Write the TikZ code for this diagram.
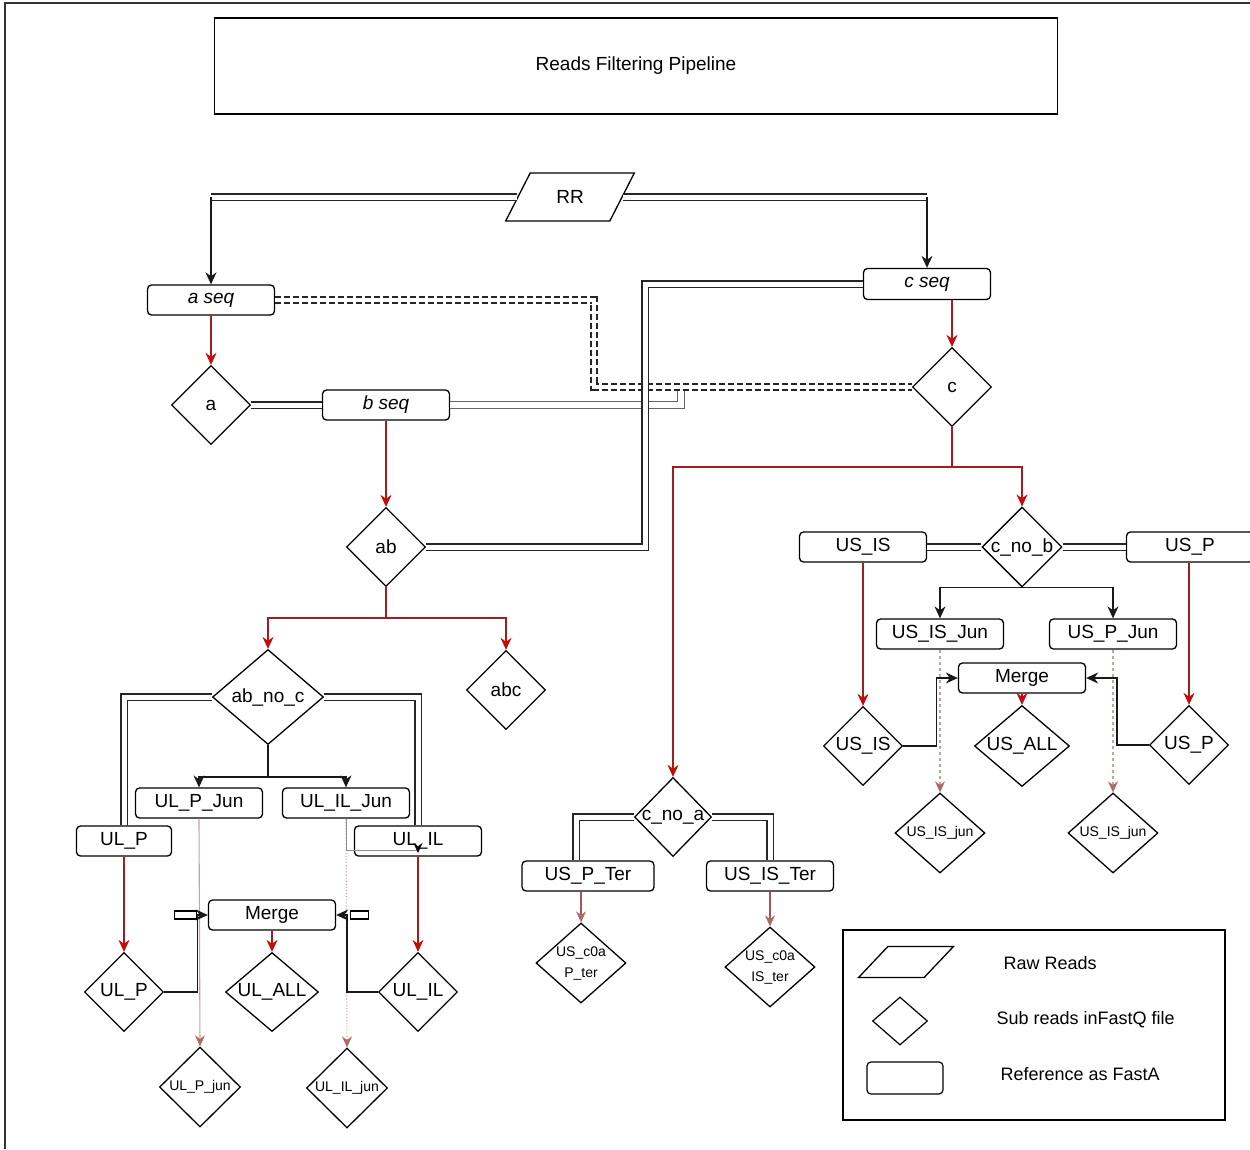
\documentclass[tikz,border=0pt]{standalone}
\usepackage{fontspec}
\setmainfont{Liberation Sans}
\usetikzlibrary{shapes.geometric,arrows.meta}
\definecolor{darkred}{RGB}{160,30,30}
\definecolor{tipred}{RGB}{200,10,10}
\definecolor{junline}{RGB}{205,160,160}
\definecolor{juntip}{RGB}{175,105,105}
\definecolor{terline}{RGB}{165,85,85}
\tikzset{
  seqbox/.style={draw, rounded corners=4pt, line width=1.3pt, minimum width=127pt, minimum height=30pt, inner sep=1pt, font=\fontsize{19}{22}\selectfont},
  seqname/.style={seqbox, font=\itshape\fontsize{19}{22}\selectfont},
  subread/.style={draw, diamond, line width=1.3pt, inner sep=0pt, minimum width=79pt, minimum height=79pt, font=\fontsize{19}{22}\selectfont},
  junread/.style={subread, aspect=1.15, minimum width=90pt, minimum height=80pt, font=\fontsize{14}{21}\selectfont, align=center},
  rawread/.style={draw, trapezium, trapezium stretches=true, line width=1.3pt, font=\fontsize{19}{22}\selectfont},
  dbl/.style={draw=black!85, double, double distance=5pt, line width=1.2pt},
  thindbl/.style={draw=black!60, double, double distance=5.5pt, line width=1pt},
  dashdbl/.style={white, line width=4.6pt, preaction={draw=black!85, dash pattern=on 6pt off 3pt, line width=7.2pt}},
  blkarrow/.style={draw=black!90, line width=1.3pt, -{Stealth[length=12pt,width=11pt]}},
  redline/.style={draw=darkred, line width=1.2pt},
  redarrow/.style={redline, -{Stealth[length=12pt,width=11pt,color=tipred]}},
  junarrow/.style={draw=junline, line width=1.1pt, -{Stealth[length=11pt,width=10pt,color=juntip]}},
  terarrow/.style={draw=terline, line width=1.1pt, -{Stealth[length=11pt,width=10pt,color=juntip]}}
}
\begin{document}
\begin{tikzpicture}[x=1pt, y=-1pt]
\useasboundingbox (0,0) rectangle (1250,1149);
\draw[black!80, line width=1.2pt] (5,1149) -- (5,3) -- (1250,3);

\node[draw, line width=1.6pt, minimum width=843pt, minimum height=96pt, font=\fontsize{19}{22}\selectfont] (title) at (636,66) {Reads Filtering Pipeline};

\node[rawread, trapezium left angle=62, trapezium right angle=118, minimum width=129pt, minimum height=48pt] (rr) at (570,197) {RR};
\node[seqname] (aseq) at (211,300) {a seq};
\node[seqname, minimum height=31pt] (cseq) at (927,284) {c seq};
\node[subread] (a) at (211,405) {a};
\node[seqname] (bseq) at (386,405) {b seq};
\node[subread] (c) at (952,387) {c};
\node[subread] (ab) at (386,547) {ab};
\node[subread, minimum width=76pt, minimum height=78pt] (cnob) at (1022,547) {c\_no\_b};
\node[seqbox] (usis) at (863,547) {US\_IS};
\node[seqbox] (usp) at (1190,547) {US\_P};
\node[subread] (abc) at (506,690) {abc};
\node[subread, minimum width=111pt, minimum height=95pt] (abnoc) at (268,697) {ab\_no\_c};

\node[seqbox] (ulpJ) at (199,803) {UL\_P\_Jun};
\node[seqbox] (ulilJ) at (346,803) {UL\_IL\_Jun};
\node[seqbox, minimum width=95pt] (ulp) at (124,841) {UL\_P};
\node[seqbox] (ulil) at (418,841) {UL\_IL};
\node[seqbox] (mergeL) at (272,915) {Merge};
\node[subread] (ulpD) at (124,992) {UL\_P};
\node[subread, aspect=1.3, minimum width=93pt] (ulall) at (272,992) {UL\_ALL};
\node[subread] (ulilD) at (418,992) {UL\_IL};
\node[junread, minimum width=81pt] (ulpj) at (200,1087) {UL\_P\_jun};
\node[junread, minimum width=81pt] (ulilj) at (347,1088) {UL\_IL\_jun};

\node[subread, minimum width=77pt] (cnoa) at (673,817) {c\_no\_a};
\node[seqbox, minimum width=132pt] (uspter) at (588,876) {US\_P\_Ter};
\node[seqbox] (uister) at (770,876) {US\_IS\_Ter};
\node[junread] (cP) at (581,963) {US\_c0a\\P\_ter};
\node[junread] (cI) at (770,967) {US\_c0a\\IS\_ter};

\node[seqbox] (usisJ) at (940,634) {US\_IS\_Jun};
\node[seqbox] (uspJ) at (1113,634) {US\_P\_Jun};
\node[seqbox] (mergeR) at (1022,678) {Merge};
\node[subread] (usisD) at (863,746) {US\_IS};
\node[subread, aspect=1.3, minimum width=95pt, minimum height=81pt] (usall) at (1022,746) {US\_ALL};
\node[subread] (uspD) at (1189,745) {US\_P};
\node[junread] (usisj) at (940,833) {US\_IS\_jun};
\node[junread] (uspj) at (1113,833) {US\_IS\_jun};

\coordinate (rrA) at (aseq.north |- rr.west);
\coordinate (rrC) at (cseq.north |- rr.east);
\draw[dbl] (rr.west) -- (rrA);
\draw[dbl] (rr.east) -- (rrC);
\draw[blkarrow] (rrA) -- (aseq.north);
\draw[blkarrow] (rrC) -- (cseq.north);

\draw[redarrow] (aseq.south) -- (a.north);
\draw[dbl] (a.east) -- (bseq.west);
\draw[redarrow] (bseq.south) -- (ab.north);
\draw[thindbl] (bseq.east) -| (681,387);
\draw[dashdbl] (aseq.east) -| (594,387) -- (c.west);
\draw[dbl] (cseq.west) -| (645,547) -- (ab.east);
\draw[redarrow] (c.north |- cseq.south) -- (c.north);

\draw[redline] (c.south) -- (952,467) coordinate (cfork);
\draw[redarrow] (cfork) -| (cnoa.north);
\draw[redarrow] (cfork) -| (cnob.north);
\draw[redline] (ab.south) -- (386,618) coordinate (abfork);
\draw[redarrow] (abfork) -| (abnoc.north);
\draw[redarrow] (abfork) -| (abc.north);

\draw[dbl] (usis.east) -- (cnob.west);
\draw[dbl] (cnob.east) -- (usp.west);
\draw[blkarrow] (cnob.south) -| (usisJ.north);
\draw[blkarrow] (cnob.south) -| (uspJ.north);
\draw[redarrow] (usis.south) -- (usisD.north);
\draw[redarrow] (usp.south -| uspD.north) -- (uspD.north);
\draw[blkarrow] (usisD.east) -- ++(33,0) |- (mergeR.west);
\draw[blkarrow] (uspD.west) -- ++(-32,0) |- (mergeR.east);
\draw[redarrow] (mergeR.south) -- (usall.north);
\draw[junarrow, dashed] (usisJ.south) -- (usisj.north);
\draw[junarrow, dashed] (uspJ.south) -- (uspj.north);

\draw[dbl] (abnoc.west) -| (ulp.north);
\draw[dbl] (abnoc.east) -| (ulil.north);
\draw[black!90, line width=1.3pt] (abnoc.south) -- (268,777) coordinate (abnocF);
\draw[blkarrow] (abnocF) -| (ulpJ.north);
\draw[blkarrow] (abnocF) -| (ulilJ.north);
\draw[redarrow] (ulp.south) -- (ulpD.north);
\draw[redarrow] (ulil.south) -- (ulilD.north);
\draw[junarrow] (ulpJ.south) -- (ulpj.north);
\draw[junarrow, dotted] (ulilJ.south) -- (ulilj.north);
\draw[black!45, line width=0.7pt, -{Stealth[length=10pt,width=9pt,color=black]}] (ulilJ.south) |- (418,850) -- (418,853);
\draw[blkarrow] (ulpD.east) -- ++(33,0) |- (mergeL.west);
\draw[blkarrow] (ulilD.west) -- ++(-31,0) |- (mergeL.east);
\draw[redarrow] (mergeL.south) -- (ulall.north);
\draw[line width=1.1pt] ([xshift=-33pt,yshift=-4pt]mergeL.west) rectangle ([xshift=-11pt,yshift=4pt]mergeL.west);
\draw[line width=1.1pt] ([xshift=14pt,yshift=-4pt]mergeL.east) rectangle ([xshift=32pt,yshift=4pt]mergeL.east);

\draw[dbl] (cnoa.west) -| ([xshift=-12pt]uspter.north);
\draw[dbl] (cnoa.east) -| (uister.north);
\draw[terarrow] (cP.north |- uspter.south) -- (cP.north);
\draw[terarrow] (uister.south) -- (cI.north);

\node[draw, line width=1.3pt, minimum width=382pt, minimum height=190pt] (legend) at (1034,1025) {};
\node[rawread, trapezium left angle=51, trapezium right angle=129, minimum width=95pt, minimum height=31pt] (legPara) at (906,962) {};
\node[draw, diamond, line width=1.2pt, minimum width=55pt, minimum height=48pt] (legDiam) at (900,1021) {};
\node[draw, rounded corners=4pt, line width=1.2pt, minimum width=76pt, minimum height=32pt] (legRect) at (905,1078) {};
\node[anchor=west, font=\fontsize{18}{22}\selectfont] (legRaw) at (1000,963) {Raw Reads};
\node[anchor=west, font=\fontsize{18}{22}\selectfont] (legSub) at (993,1020) {Sub reads inFastQ file};
\node[anchor=west, font=\fontsize{18}{22}\selectfont] (legRef) at (997,1074) {Reference as FastA};
\end{tikzpicture}
\end{document}
